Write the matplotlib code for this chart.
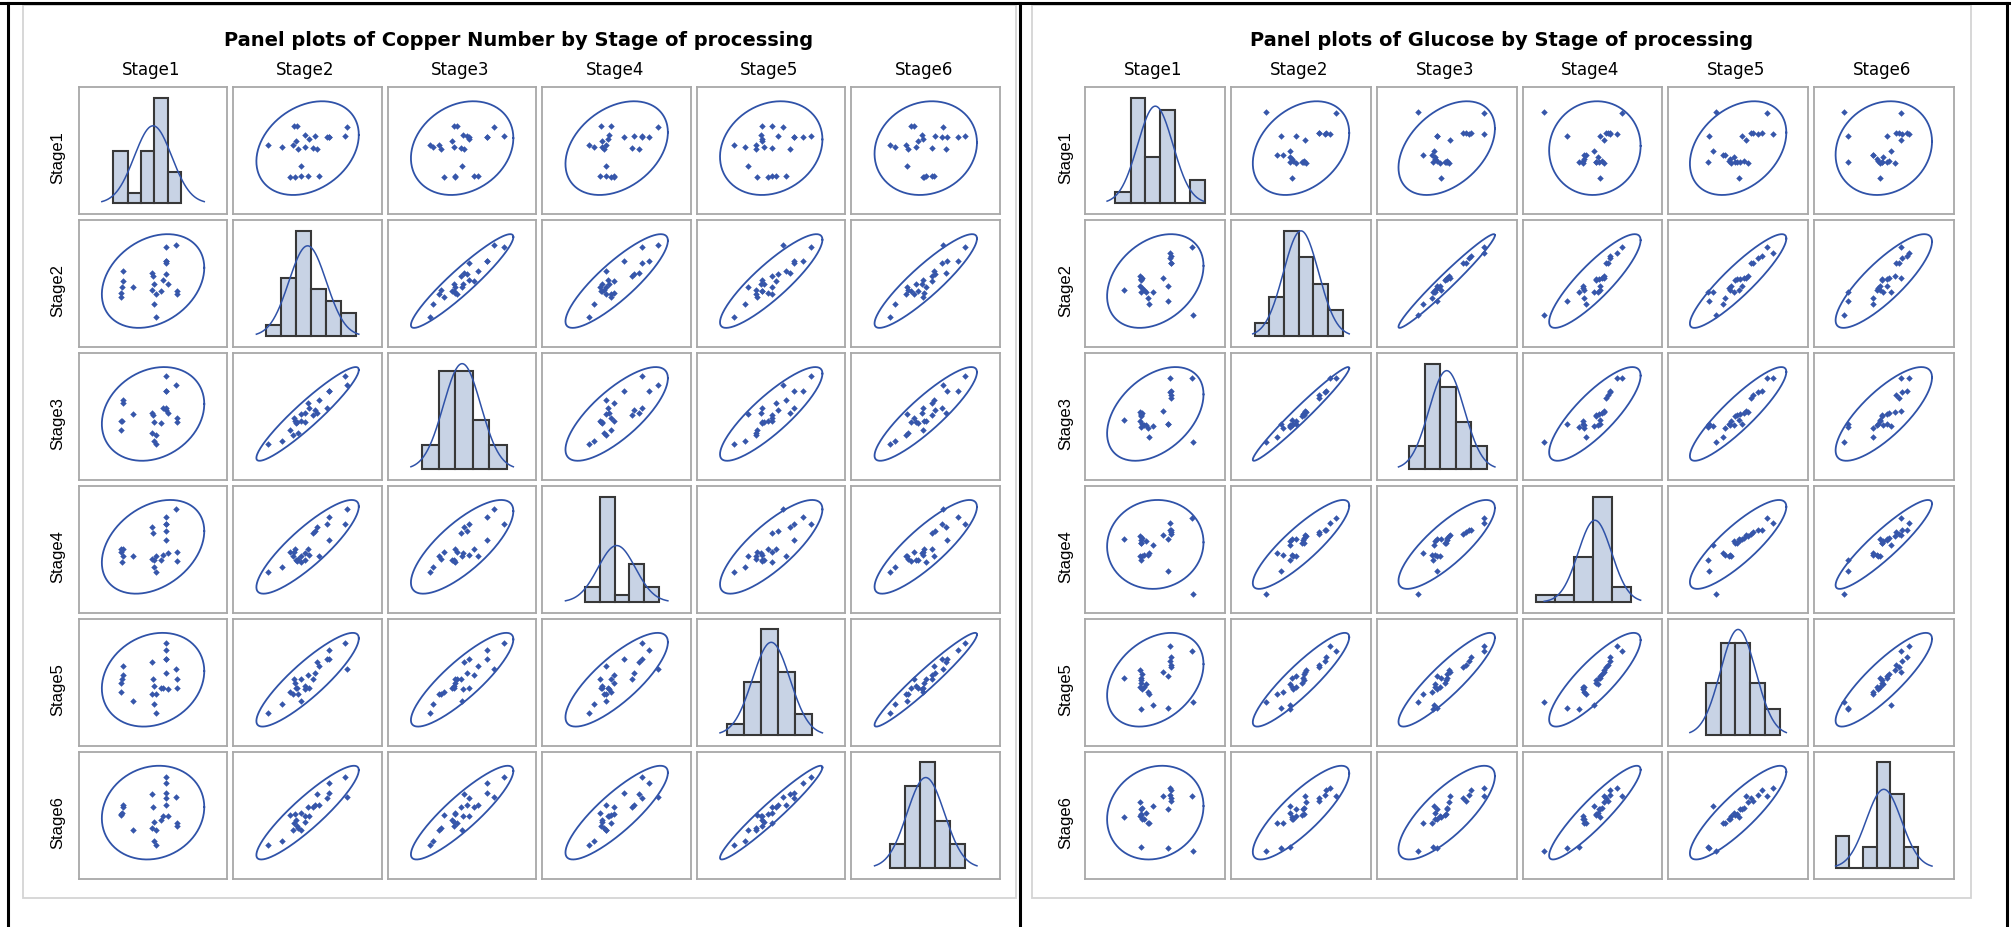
import numpy as np
import matplotlib
matplotlib.use('Agg')
import matplotlib.pyplot as plt

stages = ['Stage1', 'Stage2', 'Stage3', 'Stage4', 'Stage5', 'Stage6']

# Copper number, 24 pulp samples (same sample order in every list)
copper_s1 = [30.0, 30.0, 29.5, 29.0, 29.0, 36.5, 57.0, 56.7, 56.7, 56.7, 48.5, 49.1,
             57.2, 55.0, 58.0, 49.5, 48.5, 53.6, 50.8, 49.5, 50.8, 63.0, 64.0, 64.0]
copper_s2 = [57.4, 49.5, 45.0, 40.8, 37.6, 45.3, 75.8, 64.5, 64.5, 63.0, 55.8, 53.0,
             55.0, 50.5, 47.4, 47.4, 42.9, 41.6, 39.5, 32.0, 21.8, 76.8, 40.0, 42.0]
copper_s3 = [59.5, 56.8, 43.0, 43.2, 35.8, 48.2, 77.9, 66.1, 66.1, 53.4, 49.5, 47.6,
             51.6, 53.4, 48.9, 42.4, 33.7, 41.1, 32.0, 27.6, 25.3, 71.3, 45.0, 42.4]
copper_s4 = [42.6, 47.9, 38.4, 47.9, 46.1, 42.6, 67.5, 72.4, 55.0, 67.5, 65.0, 60.5,
             61.6, 43.9, 44.7, 39.5, 40.8, 39.5, 42.6, 34.2, 30.8, 78.9, 46.1, 38.7]
copper_s5 = [61.3, 54.7, 51.8, 48.7, 41.3, 34.7, 78.9, 73.7, 67.0, 67.0, 64.5, 51.3,
             55.8, 44.7, 44.0, 46.1, 40.3, 44.7, 40.3, 32.6, 25.0, 59.2, 51.3, 44.5]
copper_s6 = [57.0, 55.3, 51.0, 50.0, 49.0, 38.0, 78.4, 73.7, 65.8, 62.4, 65.0, 55.3,
             57.1, 48.7, 48.0, 43.9, 38.9, 45.3, 37.4, 29.5, 26.3, 63.2, 42.9, 40.8]
copper_bins = [
    [23.9, 32.9, 41.3, 49.7, 58.2, 66.6],
    [20.5, 31.0, 41.4, 51.9, 62.5, 72.8, 83.4],
    [19.6, 31.6, 43.6, 55.8, 67.7, 80.1],
    [28.0, 38.2, 48.4, 58.6, 68.8, 79.0],
    [19.8, 31.9, 43.8, 55.7, 67.9, 79.8],
    [26.0, 36.5, 47.0, 57.5, 68.0, 78.5],
]

# Glucose, same 24 samples
glucose_s1 = [24.0, 35.3, 36.5, 35.7, 36.0, 35.5, 35.3, 36.5, 38.1, 35.6, 39.6, 44.1,
              40.8, 41.2, 56.1, 56.8, 56.1, 56.8, 56.8, 51.6, 54.9, 54.9, 71.7, 72.4]
glucose_s2 = [45.3, 56.1, 54.5, 53.4, 54.0, 53.0, 48.7, 46.6, 45.3, 44.0, 44.2, 43.9,
              39.5, 35.0, 72.9, 70.5, 69.2, 65.3, 65.3, 54.7, 48.2, 37.4, 77.1, 27.1]
glucose_s3 = [48.2, 54.0, 53.0, 52.5, 52.0, 51.0, 47.6, 45.5, 44.2, 43.0, 44.2, 43.7,
              42.0, 36.0, 79.2, 69.5, 68.4, 66.6, 63.9, 54.7, 45.5, 45.5, 79.2, 31.8]
glucose_s4 = [57.5, 60.0, 58.5, 56.8, 55.0, 55.0, 45.5, 45.5, 46.5, 43.0, 56.0, 53.5,
              46.5, 48.0, 69.0, 64.0, 64.0, 63.0, 61.5, 60.5, 57.5, 35.0, 72.5, 19.0]
glucose_s5 = [50.0, 56.0, 53.0, 50.5, 48.5, 46.8, 44.0, 42.5, 43.5, 27.6, 46.0, 30.8,
              40.0, 38.5, 74.0, 66.0, 63.0, 60.0, 58.5, 55.0, 52.0, 28.4, 70.0, 32.9]
glucose_s6 = [48.6, 59.5, 55.0, 53.8, 50.5, 49.9, 49.0, 47.0, 46.6, 26.0, 51.2, 56.4,
              43.9, 44.0, 69.5, 68.1, 64.2, 60.0, 62.0, 63.7, 54.0, 25.6, 63.7, 23.2]
glucose_bins = [
    [17.7, 28.5, 38.8, 49.6, 59.95, 70.5, 81.3],
    [18.7, 29.3, 39.9, 50.5, 61.1, 71.7, 82.3],
    [26.0, 37.0, 48.0, 59.0, 70.0, 81.0],
    [13.7, 26.74, 39.78, 52.82, 65.86, 78.9],
    [26.0, 36.6, 47.2, 57.8, 68.4, 79.0],
    [17.0, 26.8, 36.6, 46.4, 56.2, 66.0, 75.8],
]

F_95 = 3.4434  # F quantile (0.95; 2, n-2) for n = 24

W, H = 2011, 927
FILL = '#c8d3e5'
EDGE = '#383838'
FIT = '#2f52a8'
DOT = '#3656aa'
FRAME = '#a8a8a8'

fig = plt.figure(figsize=(W / 100, H / 100), dpi=100)
bg = fig.add_axes([0, 0, 1, 1])
bg.set_xlim(0, W)
bg.set_ylim(H, 0)
bg.axis('off')


def px_axes(x0, y0, w, h):
    return fig.add_axes([x0 / W, 1 - (y0 + h) / H, w / W, h / H])


def draw_matrix(cols, bins, title, x_left, pitch, cell_w, title_x, label_x):
    data = [np.asarray(c, dtype=float) for c in cols]
    n = len(data[0])
    k = np.sqrt(2 * (n - 1) * (n + 1) / (n * (n - 2)) * F_95)

    # axis range per variable: prediction ellipse extent plus data, then offsets
    spans, xlims, ylims = [], [], []
    for v in data:
        m, s = v.mean(), v.std(ddof=1)
        lo, hi = min(m - k * s, v.min()), max(m + k * s, v.max())
        r = hi - lo
        spans.append((lo, hi))
        xlims.append((lo - 0.225 * r, hi + 0.225 * r))
        ylims.append((lo - 0.203 * r, hi + 0.149 * r))

    y_top, row_pitch, cell_h = 87.3, 132.9, 126.7
    t = np.linspace(0, 2 * np.pi, 240)
    circ = np.vstack([np.cos(t), np.sin(t)])

    for i in range(6):
        for j in range(6):
            ax = px_axes(x_left + j * pitch, y_top + i * row_pitch, cell_w, cell_h)
            ax.set_xticks([])
            ax.set_yticks([])
            for sp in ax.spines.values():
                sp.set_color(FRAME)
                sp.set_linewidth(1.3)
            ax.set_xlim(*xlims[j])
            if i == j:
                v = data[i]
                counts, edges, _ = ax.hist(v, bins=bins[i], color=FILL, edgecolor=EDGE,
                                           linewidth=1.5)
                bw = edges[1] - edges[0]
                m, s = v.mean(), v.std(ddof=1)
                xs = np.linspace(spans[i][0], spans[i][1], 200)
                ys = n * bw * np.exp(-0.5 * ((xs - m) / s) ** 2) / (s * np.sqrt(2 * np.pi))
                ax.plot(xs, ys, color=FIT, lw=1.1)
                top = max(counts.max(), ys.max())
                ax.set_ylim(-0.1 * top, 1.1 * top)
            else:
                x, y = data[j], data[i]
                ax.set_ylim(*ylims[i])
                L = np.linalg.cholesky(np.cov(x, y))
                e = L @ circ * k
                ax.plot(x.mean() + e[0], y.mean() + e[1], color=FIT, lw=1.3)
                ax.plot(x, y, 'D', ms=3.3, mew=0, color=DOT)

        bg.text(label_x, y_top + i * row_pitch + cell_h / 2 + 7, stages[i], rotation=90,
                ha='center', va='center', fontsize=12, family='Liberation Sans')

    for j in range(6):
        bg.text(x_left + j * pitch + cell_w / 2 - 2, 75.3, stages[j], ha='center',
                va='baseline', fontsize=12, family='DejaVu Sans')
    bg.text(title_x, 45.7, title, ha='center', va='baseline', fontsize=14,
            fontweight='bold', family='DejaVu Sans')


# outer table rules and the two graph borders
bg.plot([0, W], [3, 3], color='black', lw=2.2)
for xv in (8, 1019.6, 2007):
    bg.plot([xv, xv], [3, H], color='black', lw=2.2)
bg.add_patch(plt.Rectangle((23, 5), 993, 893, fill=False, ec='#d4d4d4', lw=1.3))
bg.add_patch(plt.Rectangle((1032.3, 5), 938.7, 893, fill=False, ec='#d4d4d4', lw=1.3))

draw_matrix([copper_s1, copper_s2, copper_s3, copper_s4, copper_s5, copper_s6], copper_bins,
            'Panel plots of Copper Number by Stage of processing',
            78.8, 154.54, 148.5, 519, 57.5)
draw_matrix([glucose_s1, glucose_s2, glucose_s3, glucose_s4, glucose_s5, glucose_s6],
            glucose_bins, 'Panel plots of Glucose by Stage of processing',
            1085.4, 145.7, 139.8, 1502, 1066)

fig.savefig('out.png', dpi=100, facecolor='white')
